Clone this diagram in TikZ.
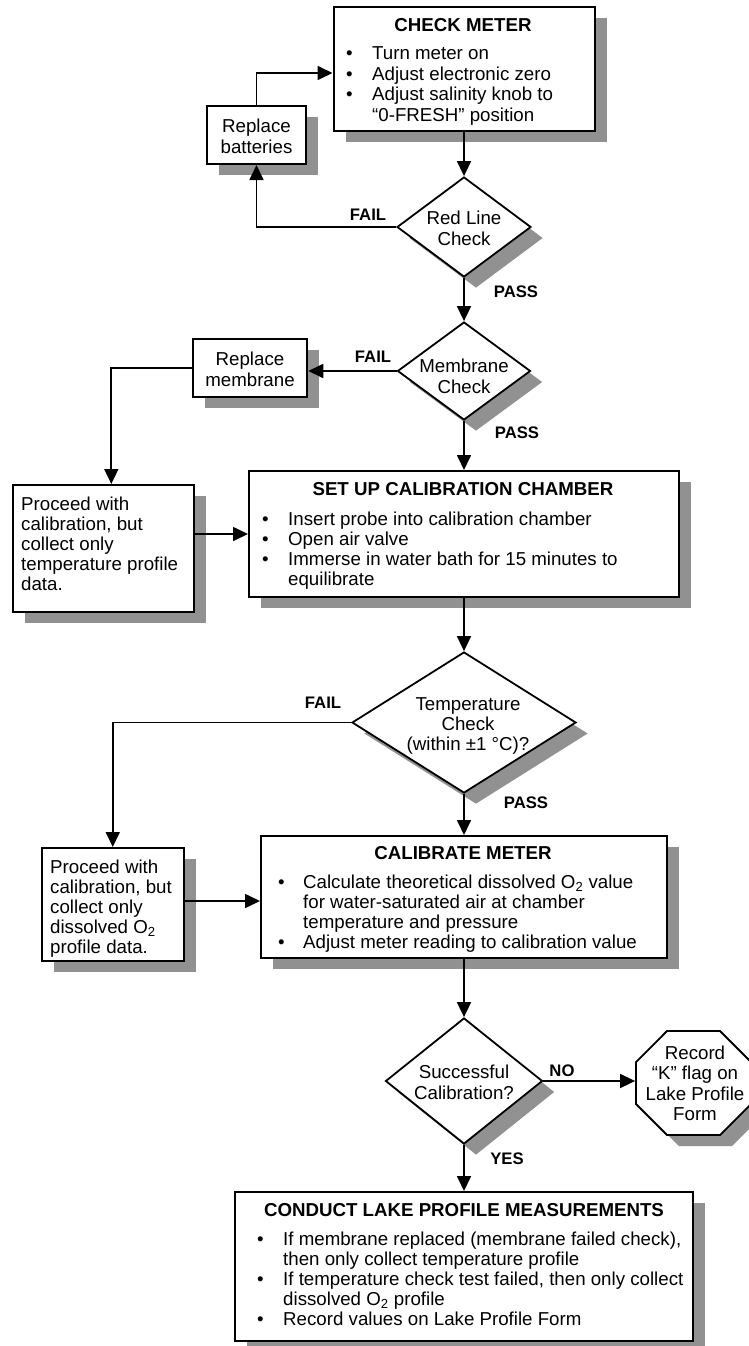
\documentclass[tikz,border=0pt]{standalone}
\usepackage{fontspec}
\setmainfont{Liberation Sans}
\usetikzlibrary{shapes.geometric,shapes.misc,shadows,arrows.meta,calc}
\definecolor{shadowgray}{RGB}{145,145,145}
\newcommand\fsz{\fontsize{18.7pt}{20.3pt}\selectfont}
\newcommand\fszb{\fontsize{18.7pt}{20pt}\selectfont}
\newcommand\fszc{\fontsize{18.7pt}{20.7pt}\selectfont}
\newcommand\lowertext[2]{\raisebox{-#1}[\height][\depth]{#2}}
\begin{document}
\begin{tikzpicture}[x=1pt,y=-1pt,font=\fsz]
\tikzset{
  shd/.style={general shadow={fill=shadowgray, shadow xshift=12pt, shadow yshift=-11pt}},
  box/.style={rectangle, draw, line width=2pt, fill=white, inner sep=0pt, shd},
  dia/.style={diamond, draw, line width=1.8pt, fill=white, inner sep=0pt, shd},
  oct/.style={chamfered rectangle, chamfered rectangle corners={north east,north west,south east,south west}, draw, line width=1.8pt, fill=white, inner sep=0pt, shd},
  ttl/.style={font=\fsz\bfseries, inner sep=0pt},
  lst/.style={font=\fszb, inner sep=0pt},
  lbl/.style={font=\fontsize{16.7pt}{18pt}\selectfont\bfseries, inner sep=0pt},
  conn/.style={line width=1.7pt, -{Triangle[length=15pt,width=14pt]}},
}
\useasboundingbox (0,0) rectangle (748,1346);

% ---------- boxes ----------
\node[box, minimum width=261pt, minimum height=124pt] (cm) at (464,69) {};
\node[ttl, anchor=base] (cmT) at (463,31.5) {CHECK METER};
\node[lst, font=\fszc, anchor=base west] (cmL) at (346,59.5) {\begin{tabular}[t]{@{}p{26pt}@{}l@{}}
\textbullet & Turn meter on\\
\textbullet & Adjust electronic zero\\
\textbullet & Adjust salinity knob to\\
 & “0-FRESH” position
\end{tabular}};

\node[box, minimum width=99pt, minimum height=58pt] (rb) at (256.5,135)
  {\lowertext{4pt}{\begin{tabular}{@{}c@{}}Replace\\batteries\end{tabular}}};

\node[dia, minimum width=134pt, minimum height=100pt] (rl) at (464,227)
  {\makebox[0pt]{\lowertext{4pt}{\begin{tabular}{@{}c@{}}Red Line\\Check\end{tabular}}}};

\node[dia, minimum width=133pt, minimum height=98pt] (mc) at (464,371)
  {\makebox[0pt]{\lowertext{8pt}{\begin{tabular}{@{}c@{}}Membrane\\Check\end{tabular}}}};

\node[box, minimum width=114.5pt, minimum height=58pt] (rm) at (250,368)
  {\lowertext{4pt}{\begin{tabular}{@{}c@{}}Replace\\membrane\end{tabular}}};

\node[box, minimum width=181.4pt, minimum height=127pt] (p1) at (103.3,548.5) {};
\node[lst, anchor=base west] (p1t) at (21,510.5) {\begin{tabular}[t]{@{}l@{}}
Proceed with\\calibration, but\\collect only\\temperature profile\\data.
\end{tabular}};

\node[box, minimum width=430pt, minimum height=126pt] (su) at (464,534) {};
\node[ttl, anchor=base] (suT) at (463,495.5) {SET UP CALIBRATION CHAMBER};
\node[lst, anchor=base west] (suL) at (262,525.5) {\begin{tabular}[t]{@{}p{26pt}@{}l@{}}
\textbullet & Insert probe into calibration chamber\\
\textbullet & Open air valve\\
\textbullet & Immerse in water bath for 15 minutes to\\
 & equilibrate
\end{tabular}};

\node[dia, minimum width=224pt, minimum height=141pt] (tc) at (464,722.5)
  {\makebox[0pt]{\hspace*{8pt}\lowertext{4pt}{\begin{tabular}{@{}c@{}}Temperature\\Check\\(within ±1 °C)?\end{tabular}}}};

\node[box, minimum width=142.5pt, minimum height=113pt] (p2) at (112.75,904.5) {};
\node[lst, anchor=base west] (p2t) at (50,873.5) {\begin{tabular}[t]{@{}l@{}}
Proceed with\\calibration, but\\collect only\\dissolved O\textsubscript{2}\\profile data.
\end{tabular}};

\node[box, minimum width=406pt, minimum height=122pt] (cal) at (464,897) {};
\node[ttl, anchor=base] (calT) at (463,859.5) {CALIBRATE METER};
\node[lst, anchor=base west] (calL) at (278,888.5) {\begin{tabular}[t]{@{}p{25pt}@{}l@{}}
\textbullet & Calculate theoretical dissolved O\textsubscript{2} value\\
 & for water-saturated air at chamber\\
 & temperature and pressure\\
\textbullet & Adjust meter reading to calibration value
\end{tabular}};

\node[dia, minimum width=157pt, minimum height=126pt] (sc) at (464,1081)
  {\makebox[0pt]{\lowertext{4pt}{\begin{tabular}{@{}c@{}}Successful\\Calibration?\end{tabular}}}};

\node[oct, minimum width=115pt, minimum height=104pt, chamfered rectangle xsep=31pt, chamfered rectangle ysep=31pt] (rk) at (693.5,1083)
  {\makebox[0pt]{\hspace*{3pt}\lowertext{3pt}{\begin{tabular}{@{}c@{}}Record\\“K” flag on\\Lake Profile\\Form\end{tabular}}}};

\node[box, minimum width=458pt, minimum height=149pt] (lp) at (464,1266.5) {};
\node[ttl, anchor=base] (lpT) at (464,1216.5) {CONDUCT LAKE PROFILE MEASUREMENTS};
\node[lst, anchor=base west] (lpL) at (257,1245.5) {\begin{tabular}[t]{@{}p{26pt}@{}l@{}}
\textbullet & If membrane replaced (membrane failed check),\\
 & then only collect temperature profile\\
\textbullet & If temperature check test failed, then only collect\\
 & dissolved O\textsubscript{2} profile\\
\textbullet & Record values on Lake Profile Form
\end{tabular}};

% ---------- labels ----------
\node[lbl] (f1) at (368,215) {FAIL};
\node[lbl] (s1) at (516,292) {PASS};
\node[lbl] (f2) at (373,357) {FAIL};
\node[lbl] (s2) at (517,433) {PASS};
\node[lbl] (f3) at (323,703) {FAIL};
\node[lbl] (s3) at (526,803) {PASS};
\node[lbl] (no) at (562,1071) {NO};
\node[lbl] (yes) at (507,1159) {YES};

% ---------- connectors ----------
\draw[conn] (cm) -- (rl);
\draw[conn] (rl.west) -| (rb.south);
\draw[conn] (rb.north) |- ([yshift=-4pt]cm.west);
\draw[conn] (rl) -- (mc);
\draw[conn] (mc.west) -- (mc.west -| rm.east);
\draw[conn] (rm.west) -| ([xshift=8pt]p1.north);
\draw[conn] (su.west -| p1.east) -- (su.west);
\draw[conn] (mc) -- (su);
\draw[conn] (su) -- (tc);
\draw[conn] (tc.west) -| (p2.north);
\draw[conn] (tc) -- (cal);
\coordinate (p2a) at ($(p2.east)+(0,-3.5)$);
\draw[conn] (p2a) -- (p2a -| cal.west);
\draw[conn] (cal) -- (sc);
\draw[conn] (sc.east) -- (sc.east -| rk.west);
\draw[conn] (sc) -- (lp);
\end{tikzpicture}
\end{document}
